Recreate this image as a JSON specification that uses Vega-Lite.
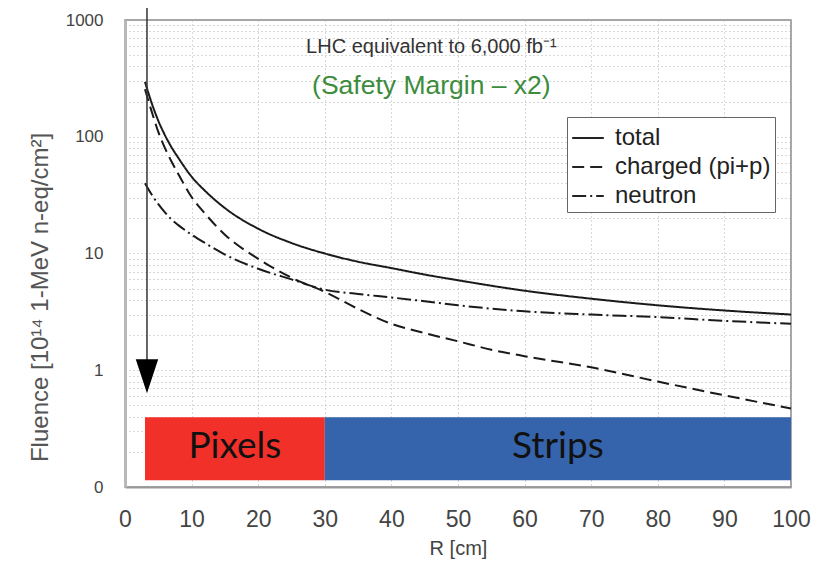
{
  "$schema": "https://vega.github.io/schema/vega-lite/v6.json",
  "width": 666,
  "height": 467,
  "autosize": "none",
  "padding": {"left": 125, "top": 20, "right": 36, "bottom": 78},
  "background": "white",
  "config": {
    "view": {"stroke": "#888", "strokeWidth": 1.5},
    "font": "Liberation Sans"
  },
  "datasets": {
    "fluence": [
      {"R": 3, "value": 295, "series": "total"},
      {"R": 4, "value": 195, "series": "total"},
      {"R": 5, "value": 137, "series": "total"},
      {"R": 6, "value": 103, "series": "total"},
      {"R": 7, "value": 81, "series": "total"},
      {"R": 8, "value": 66, "series": "total"},
      {"R": 10, "value": 45.5, "series": "total"},
      {"R": 12, "value": 34.5, "series": "total"},
      {"R": 15, "value": 24.5, "series": "total"},
      {"R": 20, "value": 16.3, "series": "total"},
      {"R": 25, "value": 12.3, "series": "total"},
      {"R": 30, "value": 10, "series": "total"},
      {"R": 35, "value": 8.5, "series": "total"},
      {"R": 40, "value": 7.5, "series": "total"},
      {"R": 45, "value": 6.6, "series": "total"},
      {"R": 50, "value": 5.9, "series": "total"},
      {"R": 60, "value": 4.8, "series": "total"},
      {"R": 70, "value": 4.1, "series": "total"},
      {"R": 80, "value": 3.6, "series": "total"},
      {"R": 90, "value": 3.25, "series": "total"},
      {"R": 100, "value": 3.0, "series": "total"},
      {"R": 3, "value": 255, "series": "charged (pi+p)"},
      {"R": 4, "value": 165, "series": "charged (pi+p)"},
      {"R": 5, "value": 110, "series": "charged (pi+p)"},
      {"R": 6, "value": 80, "series": "charged (pi+p)"},
      {"R": 7, "value": 61, "series": "charged (pi+p)"},
      {"R": 8, "value": 48, "series": "charged (pi+p)"},
      {"R": 10, "value": 30.5, "series": "charged (pi+p)"},
      {"R": 12, "value": 22, "series": "charged (pi+p)"},
      {"R": 15, "value": 14.5, "series": "charged (pi+p)"},
      {"R": 20, "value": 9, "series": "charged (pi+p)"},
      {"R": 25, "value": 6.2, "series": "charged (pi+p)"},
      {"R": 30, "value": 4.7, "series": "charged (pi+p)"},
      {"R": 35, "value": 3.35, "series": "charged (pi+p)"},
      {"R": 40, "value": 2.5, "series": "charged (pi+p)"},
      {"R": 45, "value": 2.08, "series": "charged (pi+p)"},
      {"R": 50, "value": 1.77, "series": "charged (pi+p)"},
      {"R": 55, "value": 1.5, "series": "charged (pi+p)"},
      {"R": 60, "value": 1.32, "series": "charged (pi+p)"},
      {"R": 70, "value": 1.06, "series": "charged (pi+p)"},
      {"R": 80, "value": 0.8, "series": "charged (pi+p)"},
      {"R": 90, "value": 0.61, "series": "charged (pi+p)"},
      {"R": 100, "value": 0.47, "series": "charged (pi+p)"},
      {"R": 3, "value": 40, "series": "neutron"},
      {"R": 4, "value": 32, "series": "neutron"},
      {"R": 5, "value": 26.5, "series": "neutron"},
      {"R": 6, "value": 22.5, "series": "neutron"},
      {"R": 7, "value": 19.5, "series": "neutron"},
      {"R": 8, "value": 17.5, "series": "neutron"},
      {"R": 10, "value": 14.5, "series": "neutron"},
      {"R": 12, "value": 12.3, "series": "neutron"},
      {"R": 15, "value": 9.8, "series": "neutron"},
      {"R": 20, "value": 7.4, "series": "neutron"},
      {"R": 25, "value": 6, "series": "neutron"},
      {"R": 30, "value": 4.9, "series": "neutron"},
      {"R": 35, "value": 4.5, "series": "neutron"},
      {"R": 40, "value": 4.2, "series": "neutron"},
      {"R": 45, "value": 3.9, "series": "neutron"},
      {"R": 50, "value": 3.6, "series": "neutron"},
      {"R": 60, "value": 3.2, "series": "neutron"},
      {"R": 70, "value": 3.0, "series": "neutron"},
      {"R": 80, "value": 2.85, "series": "neutron"},
      {"R": 90, "value": 2.65, "series": "neutron"},
      {"R": 100, "value": 2.5, "series": "neutron"}
    ],
    "detectors": [
      {"name": "Pixels", "r0": 3, "r1": 30, "rmid": 16.5, "f0": 0.114, "f1": 0.395, "fmid": 0.212},
      {"name": "Strips", "r0": 30, "r1": 100, "rmid": 65, "f0": 0.114, "f1": 0.395, "fmid": 0.212}
    ],
    "notes": [
      {"R": 46, "value": 590, "text": "LHC equivalent to 6,000 fb⁻¹", "kind": "scenario"},
      {"R": 46, "value": 272, "text": "(Safety Margin – x2)", "kind": "margin"}
    ],
    "arrow": [
      {"R": 3.3, "top": 1270, "bottom": 1.22, "head": 0.888}
    ]
  },
  "layer": [
    {
      "data": {"name": "fluence"},
      "mark": {"type": "line", "color": "#1a1a1a", "strokeWidth": 2, "interpolate": "monotone"},
      "encoding": {
        "x": {
          "field": "R", "type": "quantitative",
          "scale": {"domain": [0, 100], "nice": false},
          "axis": {
            "values": [0, 10, 20, 30, 40, 50, 60, 70, 80, 90, 100],
            "title": "R [cm]",
            "titleFontSize": 20, "titleFontWeight": "normal", "titleColor": "#444",
            "titleY": 61, "titleBaseline": "middle",
            "labelFontSize": 23, "labelColor": "#444", "labelPadding": 21, "labelFlush": false,
            "ticks": false,
            "domainColor": "#999", "domainWidth": 2,
            "grid": true, "gridDash": [1, 3], "gridColor": "#b0b0b0", "gridWidth": 1
          }
        },
        "y": {
          "field": "value", "type": "quantitative",
          "scale": {"type": "log", "domain": [0.1, 1000], "nice": false},
          "axis": {
            "values": [0.1, 0.2, 0.3, 0.4, 0.5, 0.6, 0.7, 0.8, 0.9, 1, 2, 3, 4, 5, 6, 7, 8, 9, 10, 20, 30, 40, 50, 60, 70, 80, 90, 100, 200, 300, 400, 500, 600, 700, 800, 900, 1000],
            "labelExpr": "datum.value == 0.1 ? '0' : (indexof([1, 10, 100, 1000], datum.value) >= 0 ? format(datum.value, 'd') : '')",
            "labelOverlap": false, "labelFlush": false,
            "labelFontSize": 17, "labelColor": "#444", "labelPadding": 22,
            "ticks": false,
            "title": "Fluence [10¹⁴ 1-MeV n-eq/cm²]",
            "titleFontSize": 24, "titleFontWeight": "normal", "titleColor": "#555",
            "titleX": -85, "titleY": 277, "titleAngle": -90, "titleAlign": "center", "titleBaseline": "middle",
            "domainColor": "#b8b8b8", "domainWidth": 3,
            "grid": true, "gridDash": [1, 3], "gridColor": "#b0b0b0", "gridWidth": 1
          }
        },
        "strokeDash": {
          "field": "series", "type": "nominal",
          "scale": {"domain": ["total", "charged (pi+p)", "neutron"], "range": [[1, 0], [12, 6], [14, 4, 2, 4]]},
          "legend": {
            "title": null,
            "orient": "none", "legendX": 442, "legendY": 97,
            "direction": "vertical",
            "strokeColor": "#666", "fillColor": "white", "padding": 4,
            "labelFontSize": 24, "labelColor": "#222", "labelOffset": 10,
            "symbolType": "stroke", "symbolSize": 1000, "symbolStrokeWidth": 2, "symbolStrokeColor": "#222",
            "rowPadding": 0
          }
        }
      }
    },
    {
      "data": {"name": "detectors"},
      "mark": {"type": "rect"},
      "encoding": {
        "x": {"field": "r0", "type": "quantitative", "scale": {"domain": [0, 100], "nice": false}},
        "x2": {"field": "r1"},
        "y": {"field": "f0", "type": "quantitative", "scale": {"type": "log", "domain": [0.1, 1000], "nice": false}},
        "y2": {"field": "f1"},
        "color": {"field": "name", "type": "nominal", "scale": {"domain": ["Pixels", "Strips"], "range": ["#F2302A", "#3564AC"]}, "legend": null}
      }
    },
    {
      "data": {"name": "detectors"},
      "mark": {"type": "text", "font": "Lato", "fontSize": 37, "color": "#111", "align": "center", "baseline": "middle", "dy": -2},
      "encoding": {
        "x": {"field": "rmid", "type": "quantitative", "scale": {"domain": [0, 100], "nice": false}},
        "y": {"field": "fmid", "type": "quantitative", "scale": {"type": "log", "domain": [0.1, 1000], "nice": false}},
        "text": {"field": "name"}
      }
    },
    {
      "data": {"name": "arrow"},
      "mark": {"type": "rule", "color": "#333", "strokeWidth": 1.5},
      "encoding": {
        "x": {"field": "R", "type": "quantitative", "scale": {"domain": [0, 100], "nice": false}},
        "y": {"field": "top", "type": "quantitative", "scale": {"type": "log", "domain": [0.1, 1000], "nice": false}},
        "y2": {"field": "bottom"}
      }
    },
    {
      "data": {"name": "arrow"},
      "mark": {"type": "point", "shape": "M-0.66,-1L0.66,-1L0,1Z", "filled": true, "color": "#000", "opacity": 1, "size": 1156},
      "encoding": {
        "x": {"field": "R", "type": "quantitative", "scale": {"domain": [0, 100], "nice": false}},
        "y": {"field": "head", "type": "quantitative", "scale": {"type": "log", "domain": [0.1, 1000], "nice": false}}
      }
    },
    {
      "data": {"name": "notes"},
      "mark": {"type": "text", "align": "center", "baseline": "middle"},
      "encoding": {
        "x": {"field": "R", "type": "quantitative", "scale": {"domain": [0, 100], "nice": false}},
        "y": {"field": "value", "type": "quantitative", "scale": {"type": "log", "domain": [0.1, 1000], "nice": false}},
        "text": {"field": "text"},
        "size": {"field": "kind", "type": "nominal", "scale": {"domain": ["scenario", "margin"], "range": [20, 26.5]}, "legend": null},
        "color": {"field": "kind", "type": "nominal", "scale": {"domain": ["scenario", "margin"], "range": ["#333333", "#3C8C3C"]}, "legend": null}
      }
    }
  ],
  "resolve": {"scale": {"color": "independent"}}
}
